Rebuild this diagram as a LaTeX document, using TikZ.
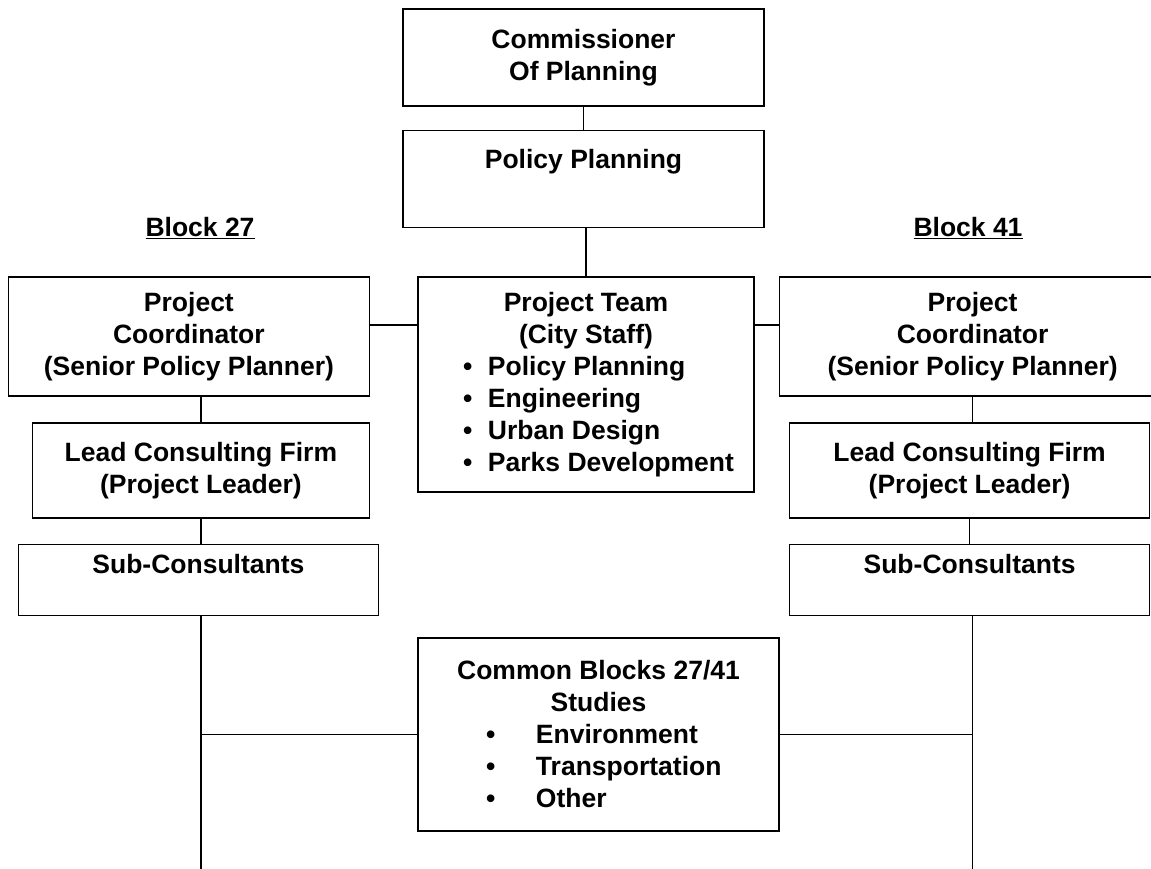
\documentclass[tikz,border=0pt]{standalone}
\usepackage{fontspec}
\setmainfont{Liberation Sans}
\usepackage{tikz}
\usetikzlibrary{positioning}

\newcommand{\teamitem}[1]{\makebox[246pt][l]{\makebox[25pt][l]{\textbullet}#1}}
\newcommand{\studyitem}[1]{\makebox[225pt][l]{\makebox[50pt][l]{\textbullet}#1}}

\begin{document}
\begin{tikzpicture}[x=1pt, y=-1pt,
  every node/.style={font=\bfseries\fontsize{26.5pt}{32pt}\selectfont, align=center, inner sep=4pt},
  box/.style={rectangle, draw, line width=1.6pt, minimum width=361pt},
  link/.style={line width=1.5pt}]

\useasboundingbox (0,0) rectangle (1151,869);

\node (comm) [box, minimum height=97pt] at (583.5,57.5) {Commissioner\\Of Planning};
\node (pol) [box, minimum height=97pt, below=23pt of comm, text height=19.5pt, text depth=41.5pt] {Policy Planning};
\node (team) [box, minimum width=336pt, minimum height=215pt, below=48pt of pol, xshift=2.5pt] {Project Team\\(City Staff)\\\teamitem{Policy Planning}\\\teamitem{Engineering}\\\teamitem{Urban Design}\\\teamitem{Parks Development}};
\node (pc27) [box, minimum height=119pt, left=47pt of team.north west, anchor=north east] {Project\\Coordinator\\(Senior Policy Planner)};
\node (pc41) [box, minimum width=386pt, minimum height=119pt, right=24pt of team.north east, anchor=north west] {Project\\Coordinator\\(Senior Policy Planner)};
\node (lead27) [box, minimum width=337pt, minimum height=95pt, below=25pt of pc27.south east, anchor=north east] {Lead Consulting Firm\\(Project Leader)};
\node (sub27) [box, minimum width=360pt, minimum height=71pt, below=25pt of lead27, xshift=-2.5pt, text height=19pt, text depth=31pt] {Sub-Consultants};
\node (lead41) [box, minimum width=360pt, minimum height=95pt, below=25pt of pc41, xshift=-3pt] {Lead Consulting Firm\\(Project Leader)};
\node (sub41) [box, minimum width=360pt, minimum height=71pt, below=25pt of lead41, text height=19pt, text depth=31pt] {Sub-Consultants};
\node (common) [box, minimum height=193pt, below=144pt of team.south west, anchor=north west] {Common Blocks 27/41\\Studies\\\studyitem{Environment}\\\studyitem{Transportation}\\\studyitem{Other}};

\node (blk27) at (200,228) {\underline{Block 27}};
\node (blk41) at (968,228) {\underline{Block 41}};

\coordinate (bottom) at (0,869);
\coordinate (end27) at (lead27.south |- bottom);
\coordinate (end41) at (pc41.south |- bottom);
\coordinate (tie27) at ([yshift=11.5pt]pc27.east);
\coordinate (tie41) at ([yshift=11.5pt]pc41.west);

\draw[link] (comm) -- (pol);
\draw[link] (team.north) -- (team.north |- pol.south);
\draw[link] (tie27) -- (tie27 -| team.west);
\draw[link] (team.east |- tie41) -- (tie41);
\draw[link] (lead27.north) -- (lead27.north |- pc27.south);
\draw[link] (lead27.south) -- (lead27.south |- sub27.north);
\draw[link] (end27 |- sub27.south) -- (end27);
\draw[link] (pc41.south) -- (pc41.south |- lead41.north);
\draw[link] (lead41) -- (sub41);
\draw[link] (end41 |- sub41.south) -- (end41);
\draw[link] (common.west) -- (common.west -| end27);
\draw[link] (common.east) -- (common.east -| end41);

\end{tikzpicture}
\end{document}
